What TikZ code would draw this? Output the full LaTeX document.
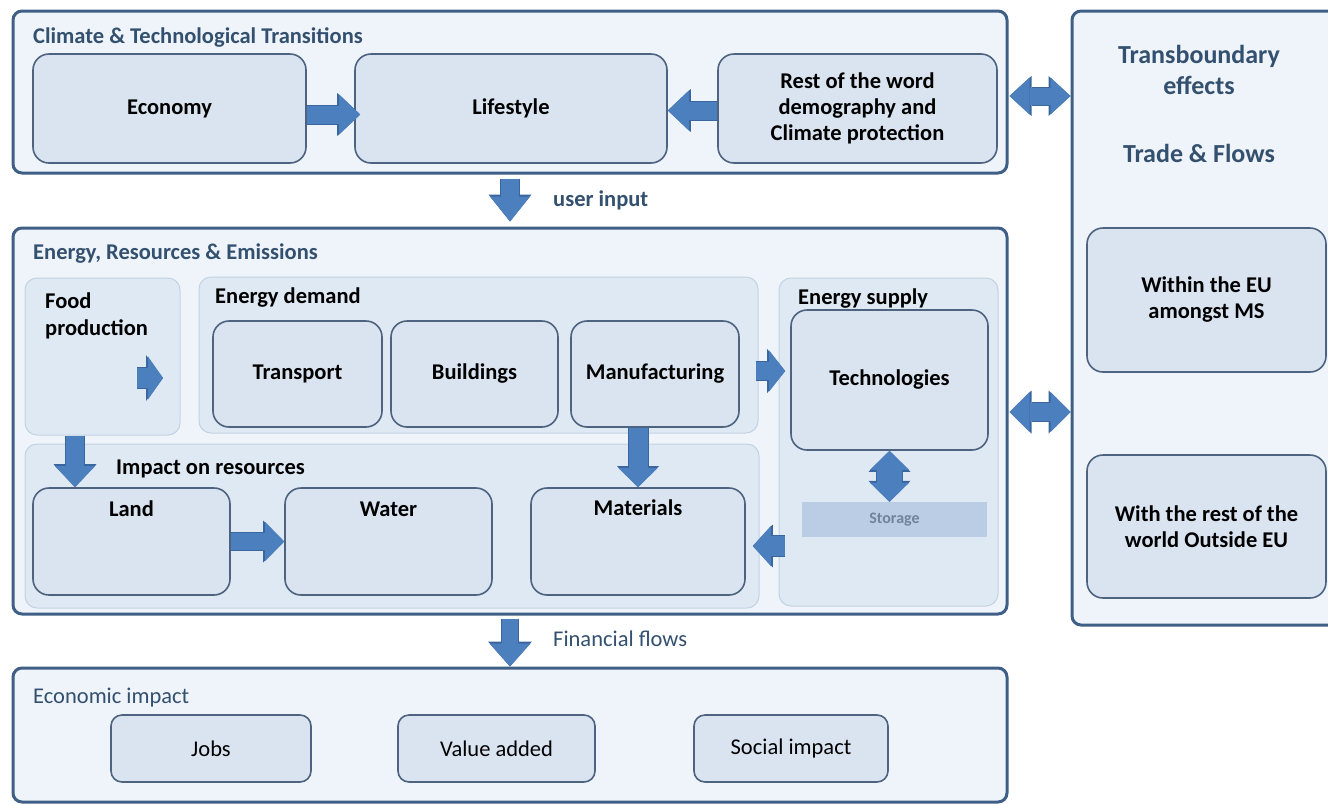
\documentclass[tikz,border=0pt]{standalone}
\usepackage{fontspec}
\setmainfont{Carlito}
\usetikzlibrary{arrows.meta,calc}
\definecolor{outerc}{HTML}{3F5F86}
\definecolor{outerfill}{HTML}{EEF4FA}
\definecolor{boxc}{HTML}{4D6380}
\definecolor{boxfill}{HTML}{DAE4F0}
\definecolor{regc}{HTML}{C3D2E3}
\definecolor{regfill}{HTML}{DFE9F4}
\definecolor{arrowc}{HTML}{4C7FBD}
\definecolor{arrowd}{HTML}{3A66A0}
\definecolor{titlec}{HTML}{34506F}
\definecolor{storfill}{HTML}{BACDE4}
\definecolor{storc}{HTML}{71839A}
\begin{document}
\begin{tikzpicture}[x=1pt,y=-1pt,
  outer/.style={draw=outerc, line width=3pt, fill=outerfill, rounded corners=9pt, inner sep=0pt},
  region/.style={draw=regc, line width=1pt, fill=regfill, rounded corners=12pt, inner sep=0pt},
  inbox/.style={draw=boxc, line width=1.6pt, fill=boxfill, rounded corners=16pt, align=center, inner sep=0pt,
    font=\fontsize{22.5}{26}\selectfont\bfseries},
  ebox/.style={draw=boxc, line width=1.6pt, fill=boxfill, rounded corners=11pt, align=center, inner sep=0pt,
    font=\fontsize{22.5}{26}\selectfont},
  title/.style={anchor=base west, inner sep=0pt, text=titlec, font=\fontsize{22.5}{26}\selectfont\bfseries},
  heading/.style={anchor=base west, inner sep=0pt, align=left, font=\fontsize{22.5}{27}\selectfont\bfseries},
  boxlabel/.style={anchor=base, inner sep=0pt, font=\fontsize{22.5}{26}\selectfont\bfseries},
  arr/.style n args={3}{
    preaction={draw=arrowd, line width=#1+2pt, -{Triangle[width=#2+3pt,length=#3+2pt,line width=0pt]}},
    draw=arrowc, line width=#1, -{Triangle[width=#2,length=#3,line width=0pt]}},
  darr/.style n args={3}{
    preaction={draw=arrowd, line width=#1+2pt,
      {Triangle[width=#2+3pt,length=#3+2pt,line width=0pt]}-{Triangle[width=#2+3pt,length=#3+2pt,line width=0pt]}},
    draw=arrowc, line width=#1,
    {Triangle[width=#2,length=#3,line width=0pt]}-{Triangle[width=#2,length=#3,line width=0pt]}}
]
\clip (0,0) rectangle (1328,804);
\fill[white] (0,0) rectangle (1328,804);

% ---------- outer panels
\node[outer, minimum width=994pt, minimum height=162pt] (top) at (510,92) {};
\node[outer, minimum width=273pt, minimum height=614pt] (right) at (1208.5,318) {};
\node[outer, minimum width=994pt, minimum height=386pt] (mid) at (510,421) {};
\node[outer, minimum width=994pt, minimum height=134pt] (bot) at (510,735) {};

% ---------- top panel
\node[title] (toptitle) at (33,43) {Climate \& Technological Transitions};
\node[inbox, minimum width=273pt, minimum height=109pt] (eco) at (169.5,108.5) {Economy};
\node[inbox, minimum width=312pt, minimum height=109pt] (life) at (511,108.5) {Lifestyle};
\node[inbox, minimum width=279pt, minimum height=109pt] (rest) at (857.5,108.5) {Rest of the word\\demography and\\Climate protection};

% ---------- right panel
\node[inner sep=0pt, align=center, text=titlec, font=\fontsize{26}{31}\selectfont\bfseries] (transb) at (1199,70) {Transboundary\\effects};
\node[inner sep=0pt, text=titlec, font=\fontsize{26}{31}\selectfont\bfseries] (trade) at (1199,153) {Trade \& Flows};
\node[inbox, minimum width=239pt, minimum height=144pt] (within) at (1206.5,300) {Within the EU\\amongst MS};
\node[inbox, minimum width=239pt, minimum height=143pt] (world) at (1206.5,526.5) {With the rest of the\\world Outside EU};

% ---------- middle panel
\node[title] (midtitle) at (33,259) {Energy, Resources \& Emissions};
\node[region, minimum width=155pt, minimum height=157pt] (food) at (102.5,356.5) {};
\node[region, minimum width=559pt, minimum height=156pt] (edem) at (478.5,355) {};
\node[region, minimum width=219pt, minimum height=328pt] (esup) at (888.5,442) {};
\node[region, minimum width=734pt, minimum height=164pt] (imp) at (392,526) {};

\node[heading] (foodt) at (45,335) {Food\\production};
\node[heading] (edemt) at (215,303) {Energy demand};
\node[heading] (esupt) at (798,304) {Energy supply};
\node[heading] (impt) at (116,474) {Impact on resources};

\node[inbox, minimum width=169pt, minimum height=106pt] (trans) at (297.5,374) {Transport};
\node[inbox, minimum width=167pt, minimum height=106pt] (build) at (474.5,374) {Buildings};
\node[inbox, minimum width=168pt, minimum height=106pt] (manu) at (655,374) {Manufacturing};
\node[inbox, minimum width=197pt, minimum height=140pt] (tech) at (889.5,380) {Technologies};
\node[fill=storfill, minimum width=185pt, minimum height=35pt, inner sep=0pt, text=storc,
      font=\fontsize{16}{18}\selectfont\bfseries] (stor) at (894.5,519.5) {Storage};

\node[inbox, minimum width=197pt, minimum height=107pt] (land) at (131.5,541.5) {};
\node[inbox, minimum width=207pt, minimum height=107pt] (water) at (388.5,541.5) {};
\node[inbox, minimum width=214pt, minimum height=107pt] (mat) at (638,541.5) {};
\node[boxlabel] (landt) at ([yshift=-29pt]land.north) {Land};
\node[boxlabel] (watert) at ([yshift=-29pt]water.north) {Water};
\node[boxlabel] (matt) at ([yshift=-28pt]mat.north) {Materials};

% ---------- bottom panel
\node[title, font=\fontsize{22.5}{26}\selectfont] (bottitle) at (33,703) {Economic impact};
\node[ebox, minimum width=200pt, minimum height=67pt] (jobs) at (211,748.5) {Jobs};
\node[ebox, minimum width=197pt, minimum height=67pt] (value) at (496.5,748.5) {Value added};
\node[ebox, minimum width=194pt, minimum height=67pt] (social) at (791,748.5) {Social impact};

% ---------- between-panel labels
\node[title] (uin) at (553,206) {user input};
\node[title, font=\fontsize{22.5}{26}\selectfont] (fin) at (553,646) {Financial flows};

% ---------- connectors
\draw[arr={18pt}{40pt}{21pt}, shorten >=-6pt] ([yshift=-6pt]eco.east) -- ([yshift=-6pt]life.west);
\draw[arr={18pt}{40pt}{21pt}] ([yshift=-2pt]rest.west) -- ([yshift=-2pt]life.east);

\coordinate (ta) at ([yshift=-4pt]top.east);
\draw[darr={17pt}{37pt}{20pt}, shorten <=1pt] (ta) -- (ta -| right.west);
\coordinate (ma) at ([yshift=9pt]mid.east);
\draw[darr={18pt}{40pt}{20pt}, shorten <=1pt] (ma) -- (ma -| right.west);

\draw[arr={18pt}{40pt}{25pt}, shorten <=4pt, shorten >=5pt] (top.south) -- (mid.north);
\draw[arr={16pt}{41pt}{23pt}, shorten <=3pt] (mid.south) -- (bot.north);

\coordinate (fa1) at (137,378);
\coordinate (fa2) at (163,378);
\draw[arr={20pt}{43pt}{15pt}] (fa1) -- (fa2);

\coordinate (fs) at ([xshift=-27.5pt]food.south);
\draw[arr={18pt}{40pt}{21pt}] (fs) -- (fs |- land.north);
\draw[arr={17pt}{39pt}{19pt}] (land.east) -- (water.west);
\draw[arr={19pt}{39pt}{19pt}] (mat.north |- manu.south) -- (mat.north);

\coordinate (mt) at ([yshift=3pt]manu.east);
\draw[arr={18pt}{41pt}{16pt}, shorten <=16pt, shorten >=5pt] (mt) -- (mt -| tech.west);

\coordinate (sm) at ([yshift=-4.5pt]mat.east);
\draw[arr={20pt}{40pt}{18pt}, shorten <=-6pt, shorten >=7pt] (sm -| esup.west) -- (sm);

\draw[darr={25pt}{39pt}{19pt}] (tech.south) -- (tech.south |- stor.north);
\end{tikzpicture}
\end{document}
